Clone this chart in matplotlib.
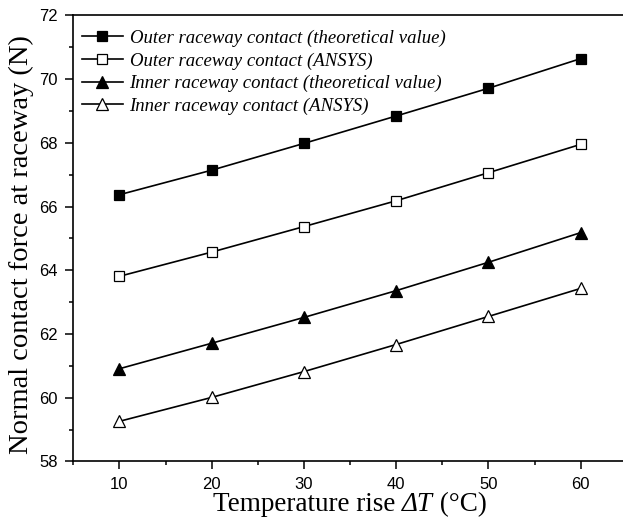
import numpy as np
import matplotlib
matplotlib.use("Agg")
import matplotlib.pyplot as plt
from matplotlib.ticker import MultipleLocator
from matplotlib.offsetbox import TextArea, HPacker, AnchoredOffsetbox

temp_rise = [10, 20, 30, 40, 50, 60]

outer_theory = [66.37, 67.14, 67.98, 68.84, 69.71, 70.64]
outer_ansys = [63.81, 64.57, 65.37, 66.18, 67.06, 67.95]
inner_theory = [60.91, 61.71, 62.52, 63.36, 64.25, 65.18]
inner_ansys = [59.26, 60.01, 60.82, 61.67, 62.55, 63.43]

labels = [
    "Outer raceway contact (theoretical value)",
    "Outer raceway contact (ANSYS)",
    "Inner raceway contact (theoretical value)",
    "Inner raceway contact (ANSYS)",
]

serif = ["Liberation Serif", "DejaVu Serif"]
sans = ["Liberation Sans", "DejaVu Sans"]

fig = plt.figure(figsize=(6.23, 5.25), dpi=100)
ax = fig.add_axes([0.1177, 0.121, 0.8884, 0.8499])

series = [
    (outer_theory, "s", "black", 7),
    (outer_ansys, "s", "white", 7),
    (inner_theory, "^", "black", 8),
    (inner_ansys, "^", "white", 8),
]
for (vals, mk, fc, ms), lab in zip(series, labels):
    ax.plot(temp_rise, vals, color="black", lw=1.2, marker=mk, ms=ms,
            mfc=fc, mec="black", mew=0.9, label=lab)

ax.set_xlim(5, 65)
ax.set_ylim(58, 72)
ax.xaxis.set_major_locator(MultipleLocator(10))
ax.xaxis.set_minor_locator(MultipleLocator(5))
ax.yaxis.set_major_locator(MultipleLocator(2))
ax.yaxis.set_minor_locator(MultipleLocator(1))

ax.tick_params(which="both", direction="out", top=False, right=False, width=1.1)
ax.tick_params(which="major", length=6, labelsize=12, pad=5)
ax.tick_params(which="minor", length=3)
for t in ax.get_xticklabels() + ax.get_yticklabels():
    t.set_family(sans)
for s in ax.spines.values():
    s.set_linewidth(1.2)

# x label with italic ΔT, built from text pieces
xl_props = dict(family=serif, size=19.5, color="black")
parts = [
    TextArea("Temperature rise ", textprops=xl_props),
    TextArea("ΔT", textprops=dict(xl_props, style="italic")),
    TextArea(" (°C)", textprops=xl_props),
]
xlabel_box = HPacker(children=parts, align="baseline", pad=0, sep=0)
ax.add_artist(AnchoredOffsetbox(loc="upper center", child=xlabel_box, pad=0,
                                borderpad=0, frameon=False,
                                bbox_to_anchor=(0.5, -0.068),
                                bbox_transform=ax.transAxes))

ax.set_ylabel("Normal contact force at raceway (N)", family=serif, fontsize=20.5)
ax.yaxis.set_label_coords(-0.071, 0.487)

leg = ax.legend(loc="upper left", bbox_to_anchor=(0.0, 0.987), frameon=False,
                prop={"family": serif, "style": "italic", "size": 13.5},
                handlelength=2.2, handletextpad=0.35, labelspacing=0.29,
                borderaxespad=0.2, borderpad=0.25)

fig.savefig("out.png", dpi=100)
